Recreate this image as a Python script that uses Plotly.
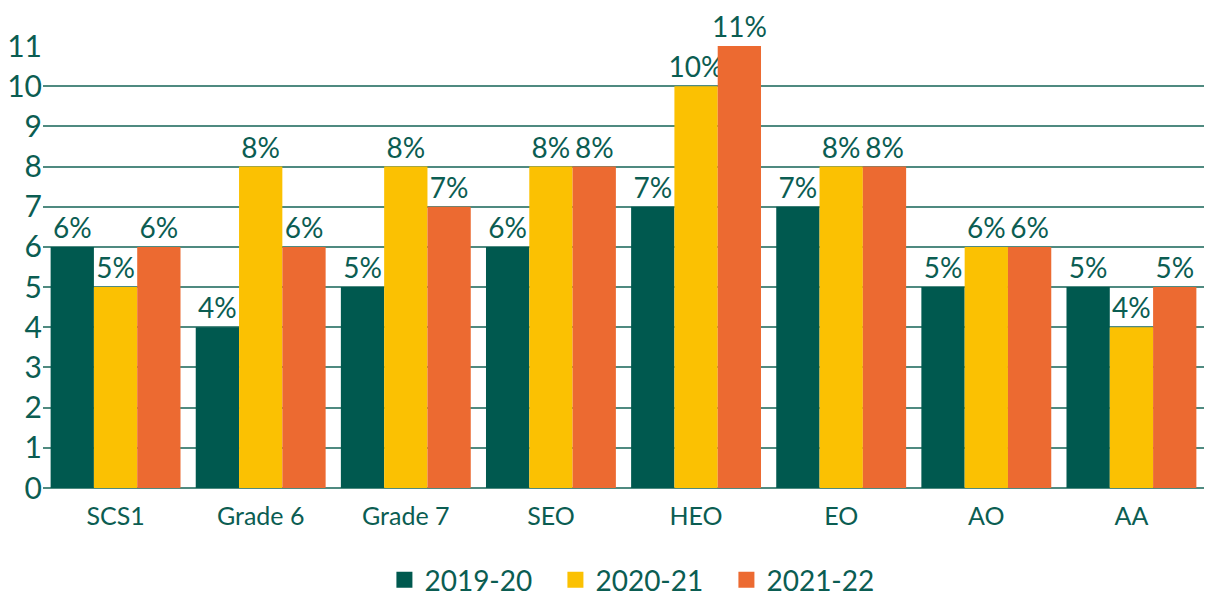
import plotly.graph_objects as go

categories = ["SCS1", "Grade 6", "Grade 7", "SEO", "HEO", "EO", "AO", "AA"]
series_names = ["2019-20", "2020-21", "2021-22"]
v2019 = [6, 4, 5, 6, 7, 7, 5, 5]
v2020 = [5, 8, 8, 8, 10, 8, 6, 4]
v2021 = [6, 6, 7, 8, 11, 8, 6, 5]
colors = ["#00594F", "#FBC102", "#EC6A31"]
teal = "#0B5D52"
font_family = "Lato"

fig = go.Figure()
for name, vals, col in zip(series_names, [v2019, v2020, v2021], colors):
    fig.add_trace(go.Bar(
        x=categories, y=vals, name=name, marker=dict(color=col, line=dict(width=0)),
        text=[f"{v}%" for v in vals], textposition="outside", cliponaxis=False,
        constraintext="none",
        textfont=dict(size=28, color=teal, family=font_family),
        showlegend=False,
    ))
    fig.add_trace(go.Scatter(
        x=[None], y=[None], mode="markers", name=name,
        marker=dict(symbol="square", size=20, color=col),
    ))

fig.update_layout(
    width=1206, height=601,
    margin=dict(l=43, r=2, t=46, b=113, autoexpand=False),
    paper_bgcolor="white", plot_bgcolor="white",
    barmode="group", bargap=0.105, bargroupgap=0,
    font=dict(family=font_family, color=teal),
    legend=dict(orientation="h", x=0.515, xanchor="center", y=-0.208, yanchor="middle",
                font=dict(size=28, color=teal, family=font_family),
                itemwidth=30, tracegroupgap=0, entrywidth=126),
    xaxis=dict(tickfont=dict(size=25, color=teal), showgrid=False, ticks="",
               showline=False, ticklabelstandoff=11, automargin=False),
    yaxis=dict(range=[0, 11], dtick=1, tickfont=dict(size=30, color=teal),
               showgrid=True, gridcolor="#4F8A80", gridwidth=2,
               zeroline=True, zerolinecolor="#4F8A80", zerolinewidth=2,
               ticks="", showline=False, ticklabelstandoff=0, automargin=False),
)

fig.write_html("out.html", config={"displayModeBar": False},
               post_script="document.body.style.margin='0';")
